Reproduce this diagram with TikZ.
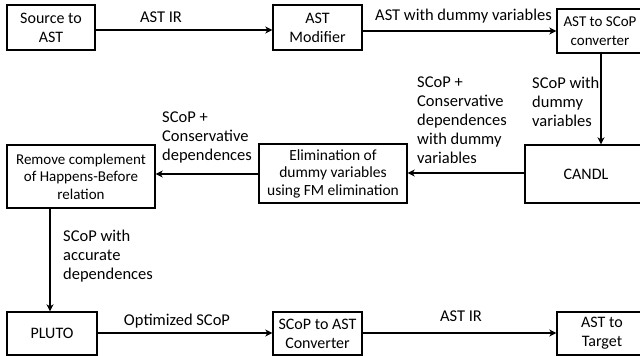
\documentclass[tikz,border=0pt]{standalone}
\usepackage{fontspec}
\setmainfont{Carlito}
\usetikzlibrary{arrows.meta}
\begin{document}
\begin{tikzpicture}[x=1pt,y=-1pt,
  box/.style={draw,line width=1.3pt,align=center,inner sep=0pt,font=\fontsize{16}{19}\selectfont},
  lbl/.style={align=left,inner sep=0pt,font=\fontsize{16.5}{19}\selectfont},
  conn/.style={line width=1.3pt,-{Stealth[length=7pt,width=7pt,inset=2pt]}}]
\useasboundingbox (0,0) rectangle (640,356);
\node[box,minimum width=88pt,minimum height=45pt] (src) at (51,27.5) {Source to\\AST};
\node[box,minimum width=89pt,minimum height=45pt] (mod) at (317.5,27.5) {AST\\Modifier};
\node[box,minimum width=86pt,minimum height=44pt,font=\fontsize{15}{19}\selectfont] (conv) at (600,31) {AST to SCoP\\converter};
\node[box,minimum width=122pt,minimum height=58pt] (candl) at (586,174) {CANDL};
\node[box,minimum width=148pt,minimum height=59pt,font=\fontsize{15.5}{17.5}\selectfont] (elim) at (333,173.5) {Elimination of\\dummy variables\\using FM elimination};
\node[box,minimum width=148pt,minimum height=63pt,font=\fontsize{15}{17.5}\selectfont] (rem) at (81,176.5) {Remove complement\\of Happens-Before\\relation};
\node[box,minimum width=90pt,minimum height=43pt] (pluto) at (52,333.5) {PLUTO};
\node[box,minimum width=89pt,minimum height=43pt] (s2a) at (317.5,333.5) {SCoP to AST\\Converter};
\node[box,minimum width=90pt,minimum height=43pt] (tgt) at (602,333.5) {AST to\\Target};

\draw[conn] (src.east |- 0,30) -- (mod.west |- 0,30);
\draw[conn] (mod.east |- 0,31) -- (conv.west |- 0,31);
\draw[conn] (conv.south -| 601,0) -- (candl.north -| 601,0);
\draw[conn] (candl.west |- 0,173) -- (elim.east |- 0,173);
\draw[conn] (elim.west |- 0,174) -- (rem.east |- 0,174);
\draw[conn] (rem.south -| 50,0) -- (pluto.north -| 50,0);
\draw[conn] (pluto.east |- 0,333) -- (s2a.west |- 0,333);
\draw[conn] (s2a.east |- 0,333) -- (tgt.west |- 0,333);

\node[lbl,anchor=base] (l1) at (161,23) {AST IR};
\node[lbl,anchor=base west] (l2) at (375,20) {AST with dummy variables};
\node[lbl,anchor=north west] (l3) at (532,77) {SCoP with\\dummy\\variables};
\node[lbl,anchor=north west] (l4) at (417,77) {SCoP +\\Conservative\\dependences\\with dummy\\variables};
\node[lbl,anchor=north west] (l5) at (162,112) {SCoP +\\Conservative\\dependences};
\node[lbl,anchor=north west] (l6) at (63,230) {SCoP with\\accurate\\dependences};
\node[lbl,anchor=base] (l7) at (177,325) {Optimized SCoP};
\node[lbl,anchor=base] (l8) at (461,321) {AST IR};
\end{tikzpicture}
\end{document}
